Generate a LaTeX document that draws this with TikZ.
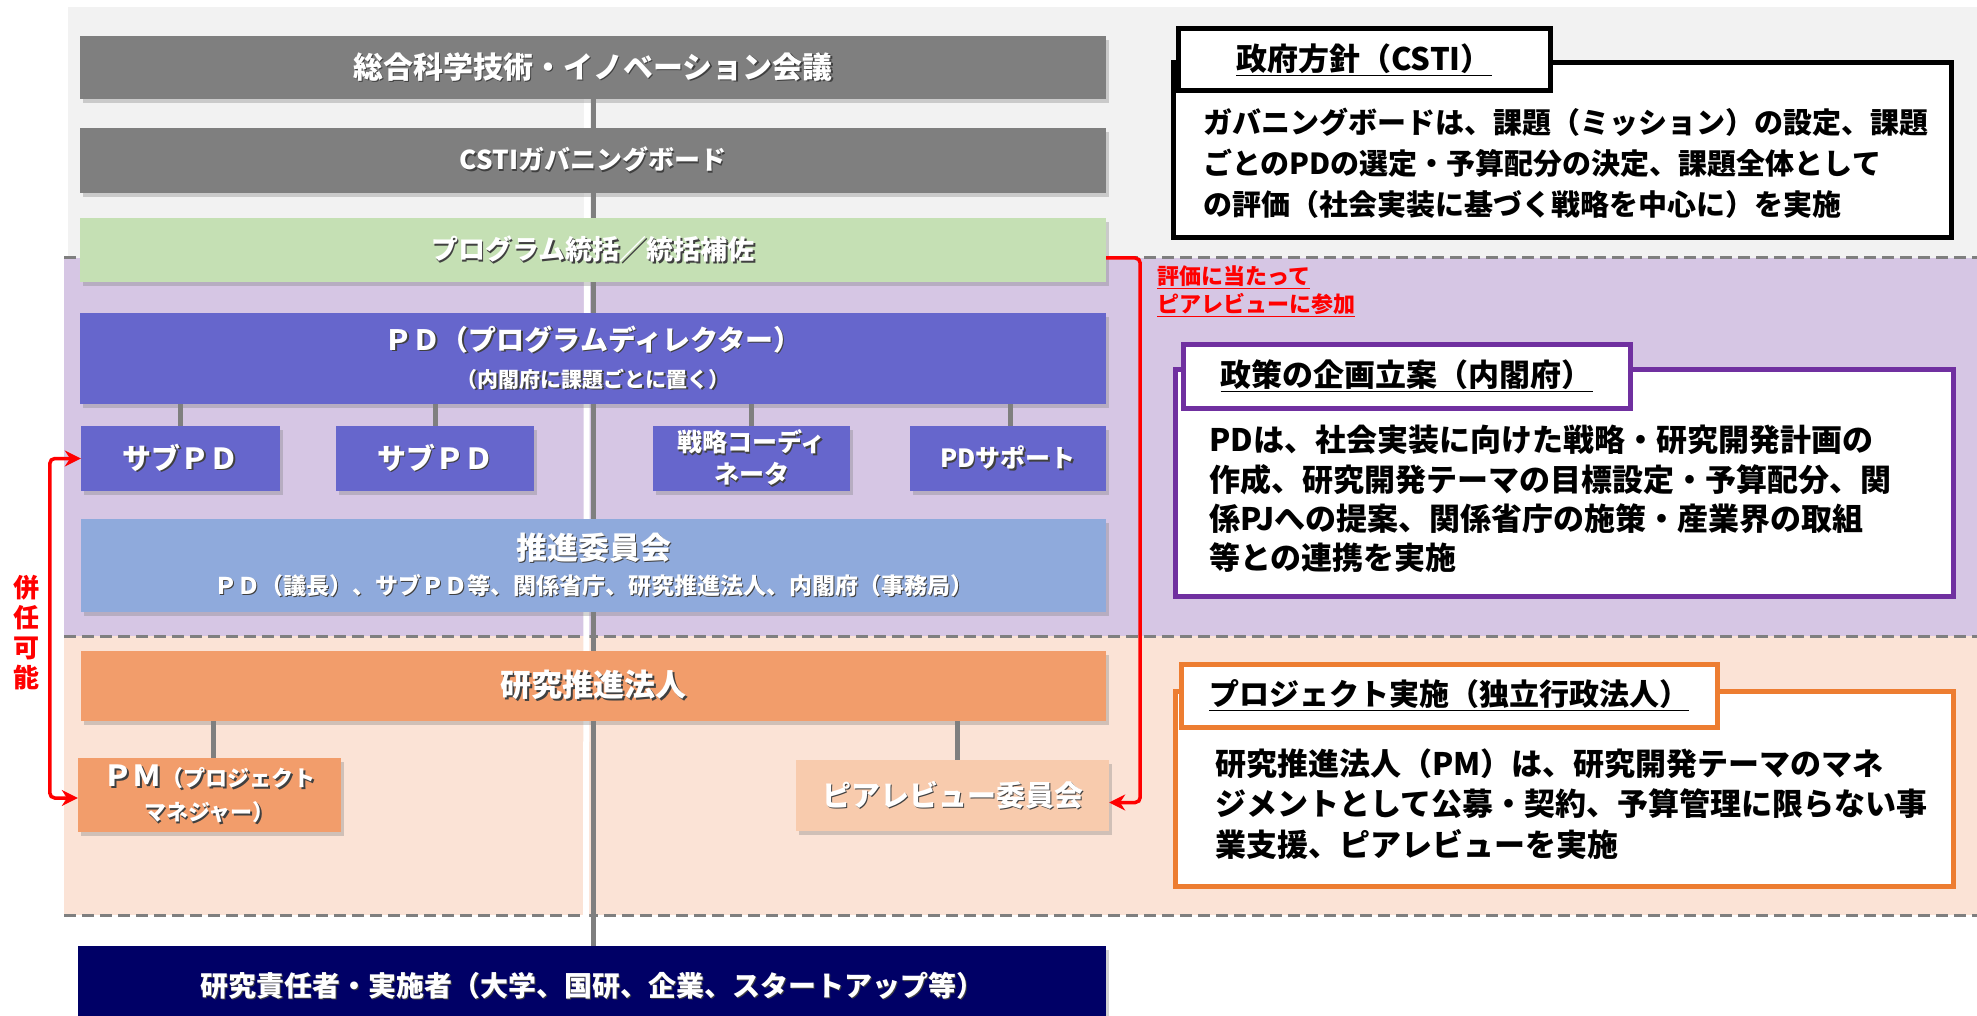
\documentclass[tikz,border=0pt]{standalone}
\usepackage{fontspec}
\setmainfont{Noto Sans CJK JP}
\usetikzlibrary{shadows,arrows.meta,calc}
\definecolor{bggray}{HTML}{F2F2F2}
\definecolor{bgpurple}{HTML}{D6C6E4}
\definecolor{bgpeach}{HTML}{FBE3D6}
\definecolor{dgray}{HTML}{7F7F7F}
\definecolor{pgreen}{HTML}{C5E0B4}
\definecolor{pdblue}{HTML}{6666CC}
\definecolor{sblue}{HTML}{8FAADC}
\definecolor{orng}{HTML}{F29D6B}
\definecolor{lorng}{HTML}{F8CBAD}
\definecolor{navyc}{HTML}{000066}
\definecolor{purp}{HTML}{7030A0}
\definecolor{oline}{HTML}{ED7D31}
\definecolor{redc}{HTML}{FF0000}
\definecolor{shadowc}{HTML}{404040}
\newcommand\shd[1]{\leavevmode\rlap{\kern1.5pt\raise-1.5pt\hbox{\color{shadowc}#1}}#1}
\newcommand\fs[2]{\fontsize{#1}{#2}\selectfont}
\pgfdeclarelayer{bg}\pgfdeclarelayer{lines}\pgfsetlayers{bg,lines,main}
\begin{document}
\begin{tikzpicture}[x=1pt,y=-1pt,
  box/.style={rectangle, inner sep=0pt, text=white, font=\bfseries, align=center,
    drop shadow={shadow xshift=3pt, shadow yshift=-4pt, opacity=0.35}},
  conn/.style={draw=dgray, line width=5pt},
  hl/.style={draw=white, line width=6pt},
  dashln/.style={draw=dgray, line width=3pt, dash pattern=on 12pt off 6pt},
  redln/.style={draw=redc, line width=3.5pt, rounded corners=5pt},
  panel/.style={rectangle, draw, line width=5pt, fill=white, inner sep=0pt},
  tabbox/.style={rectangle, draw, line width=5pt, fill=white, inner sep=0pt, font=\bfseries},
  body/.style={align=left, anchor=west, inner sep=0pt, text=black},
  rtip/.tip={Stealth[length=16pt,width=16pt]}
]
\useasboundingbox (0,0) rectangle (1977,1016);
\begin{pgfonlayer}{bg}
\fill[white] (0,0) rectangle (1977,1016);
\fill[bggray] (68,7) rectangle (1977,258);
\fill[bgpurple] (64,258) rectangle (1977,636);
\fill[bgpeach] (64,636) rectangle (1977,915);
\draw[dashln] (64,258) -- (1977,258);
\draw[dashln] (64,636) -- (1977,636);
\draw[dashln] (64,915) -- (1977,915);
\end{pgfonlayer}

% left column
\node[box, fill=dgray, minimum width=1026pt, minimum height=63pt] (csti) at (593,67.5) {\fs{30}{36}\shd{総合科学技術・イノベーション会議}};
\node[box, fill=dgray, minimum width=1026pt, minimum height=65pt] (gb) at (593,160.5) {\fs{26}{32}\shd{CSTIガバニングボード}};
\node[box, fill=pgreen, minimum width=1026pt, minimum height=64pt] (prog) at (593,250) {\fs{27}{32}\shd{プログラム統括／統括補佐}};
\node[box, fill=pdblue, minimum width=1026pt, minimum height=91pt, font=\bfseries\fs{27}{37}] (pd) at (593,358.5) {\fs{28}{37}\shd{ＰＤ（プログラムディレクター）}\\\fs{21}{37}\shd{（内閣府に課題ごとに置く）}};
\node[box, fill=pdblue, minimum width=199pt, minimum height=65pt] (sub1) at (180.5,458.5) {\fs{29}{34}\shd{サブＰＤ}};
\node[box, fill=pdblue, minimum width=198pt, minimum height=65pt] (sub2) at (435,458.5) {\fs{29}{34}\shd{サブＰＤ}};
\node[box, fill=pdblue, minimum width=197pt, minimum height=65pt, font=\bfseries\fs{25}{32}] (coord) at (751.5,458.5) {\shd{戦略コーディ}\\\shd{ネータ}};
\node[box, fill=pdblue, minimum width=196pt, minimum height=65pt] (pdsup) at (1008,458.5) {\fs{25}{30}\shd{PDサポート}};
\node[box, fill=sblue, minimum width=1025pt, minimum height=93pt, font=\bfseries\fs{31}{35}] (suishin) at (593.5,565.5) {\fs{31}{35}\shd{推進委員会}\\\fs{23}{35}\shd{ＰＤ（議長）、サブＰＤ等、関係省庁、研究推進法人、内閣府（事務局）}};
\node[box, fill=orng, minimum width=1025pt, minimum height=70pt] (hojin) at (593.5,686) {\fs{31}{36}\shd{研究推進法人}};
\node[box, fill=orng, minimum width=263pt, minimum height=74pt, font=\bfseries\fs{22}{34}] (pm) at (209.5,795) {\fs{29}{34}\shd{ＰＭ}\fs{22}{34}\shd{（プロジェクト}\\\fs{22}{34}\shd{マネジャー）}};
\node[box, fill=lorng, minimum width=313pt, minimum height=71pt] (peer) at (952.5,795.5) {\fs{29}{34}\shd{ピアレビュー委員会}};
\node[box, fill=navyc, minimum width=1028pt, minimum height=80pt, anchor=north] (bottom) at (592,946) {\fs{28}{34}\shd{研究責任者・実施者（大学、国研、企業、スタートアップ等）}};

\begin{pgfonlayer}{lines}
\draw[hl] ([xshift=-6pt]csti.south) -- ([xshift=-6pt]bottom.north);
\draw[conn] (csti.south) -- (csti.south |- bottom.north);
\draw[conn] (sub1.north) -- (sub1.north |- pd.south);
\draw[conn] (sub2.north) -- (sub2.north |- pd.south);
\draw[conn] (coord.north) -- (coord.north |- pd.south);
\draw[conn] ([xshift=2pt]pdsup.north) -- ([xshift=2pt]pdsup.north |- pd.south);
\draw[conn] ([xshift=4pt]pm.north) -- ([xshift=4pt]pm.north |- hojin.south);
\draw[conn] ([xshift=5pt]peer.north) -- ([xshift=5pt]peer.north |- hojin.south);
\end{pgfonlayer}

% red connectors
\draw[redln, -{rtip}] ([yshift=-8pt]prog.east) -- ++(34,0) |- ([yshift=-7pt]peer.east);
\draw[redln, {rtip}-{rtip}] (sub1.west) -- ++(-31,0) |- ([yshift=-3pt]pm.west);
\node[text=redc, font=\bfseries\fs{26}{30}, align=center, inner sep=0pt] (kennin) at (26,633) {併\\任\\可\\能};
\node[text=redc, font=\bfseries\fs{22}{28}, align=left, anchor=west, inner sep=0pt] (hyoka) at (1157,291) {\underline{評価に当たって}\\\underline{ピアレビューに参加}};

% right panels
\node[panel, draw=black, minimum width=778pt, minimum height=175pt] (seifu) at (1562,150.5) {};
\node[tabbox, draw=black, minimum width=372pt, minimum height=62pt] (seifut) at (1364,60) {\fs{31}{36}\underline{政府方針（CSTI）}};
\node[body, font=\bfseries\fs{29}{41}] (seifub) at (1203,163) {ガバニングボードは、課題（ミッション）の設定、課題\\ごとのPDの選定・予算配分の決定、課題全体として\\の評価（社会実装に基づく戦略を中心に）を実施};

\node[panel, draw=purp, minimum width=778pt, minimum height=227pt] (seisaku) at (1564,482.5) {};
\node[tabbox, draw=purp, minimum width=447pt, minimum height=64pt] (seisakut) at (1406.5,376) {\fs{31}{36}\underline{政策の企画立案（内閣府）}};
\node[body, font=\bfseries\fs{31}{39.3}] (seisakub) at (1209,499) {PDは、社会実装に向けた戦略・研究開発計画の\\作成、研究開発テーマの目標設定・予算配分、関\\係PJへの提案、関係省庁の施策・産業界の取組\\等との連携を実施};

\node[panel, draw=oline, minimum width=778pt, minimum height=195pt] (proj) at (1564,788.5) {};
\node[tabbox, draw=oline, minimum width=536pt, minimum height=63pt] (projt) at (1449,695.5) {\fs{30}{36}\underline{プロジェクト実施（独立行政法人）}};
\node[body, font=\bfseries\fs{31}{40.5}] (projb) at (1215,804) {研究推進法人（PM）は、研究開発テーマのマネ\\ジメントとして公募・契約、予算管理に限らない事\\業支援、ピアレビューを実施};
\end{tikzpicture}
\end{document}
